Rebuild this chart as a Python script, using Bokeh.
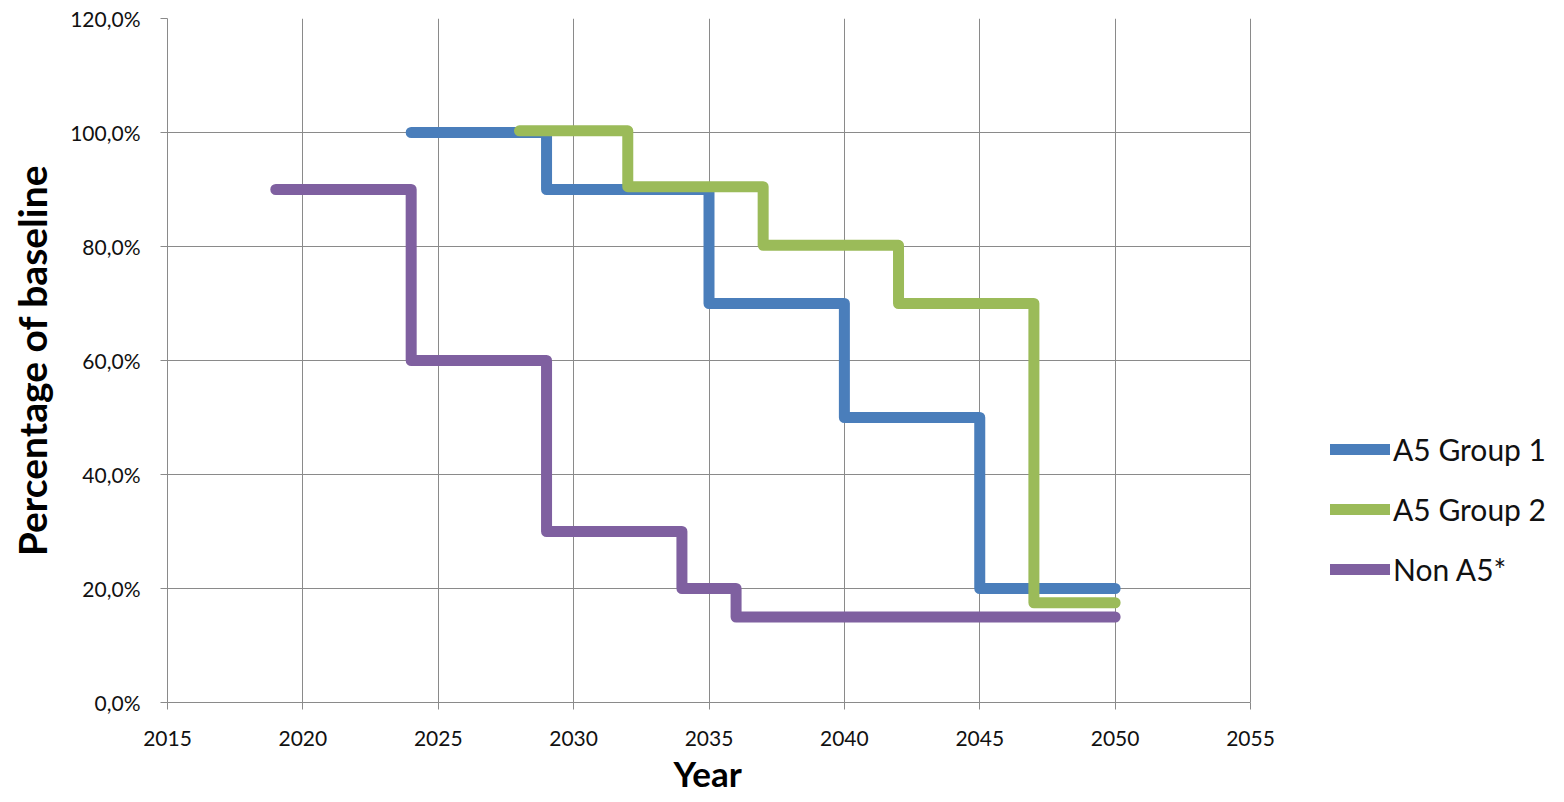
from bokeh.plotting import figure
from bokeh.models import Range1d, FixedTicker, Legend, LegendItem, Title
from bokeh.embed import file_html
from bokeh.resources import INLINE

# ---- data ----
years_g1 = [2024, 2029, 2035, 2040, 2045, 2050]
vals_g1 = [100, 90, 70, 50, 20, 20]

years_g2 = [2028, 2032, 2037, 2042, 2047, 2050]
vals_g2 = [100.3, 90.5, 80.2, 70, 17.5, 17.5]

years_na5 = [2019, 2024, 2029, 2034, 2036, 2050]
vals_na5 = [90, 60, 30, 20, 15, 15]

series_names = ["A5 Group 1", "A5 Group 2", "Non A5*"]
series_colors = ["#4A7EBB", "#9BBB59", "#7F60A0"]

x_ticks = [2015, 2020, 2025, 2030, 2035, 2040, 2045, 2050, 2055]
y_ticks = [0, 20, 40, 60, 80, 100, 120]
y_tick_labels = ["0,0%", "20,0%", "40,0%", "60,0%", "80,0%", "100,0%", "120,0%"]

FONT = "Lato"
GRID = "#8a8a8a"

W, H = 1564, 802
LEFT = 167
PLOT_PX = 1083            # pixel width of the 2015-2055 plot area
x0, x1 = x_ticks[0], x_ticks[-1]
# the frame runs to the right edge so the legend can sit beside the plot area
x_end = x0 + (x1 - x0) * (W - LEFT) / PLOT_PX

p = figure(width=W, height=H, output_backend="svg", toolbar_location=None,
           x_range=Range1d(x0, x_end), y_range=Range1d(y_ticks[0], y_ticks[-1]),
           min_border_left=LEFT, min_border_right=0, min_border_top=18, min_border_bottom=100)
p.background_fill_color = "white"
p.border_fill_color = "white"
p.outline_line_color = None

p.xaxis.ticker = FixedTicker(ticks=x_ticks)
p.yaxis.ticker = FixedTicker(ticks=y_ticks)
p.yaxis.major_label_overrides = {t: l for t, l in zip(y_ticks, y_tick_labels)}
p.xaxis.bounds = (x0, x1)

for ax in (p.xaxis[0], p.yaxis[0]):
    ax.axis_line_color = GRID
    ax.major_tick_line_color = GRID
    ax.major_tick_out = 7
    ax.major_tick_in = 0
    ax.minor_tick_line_color = None
    ax.major_label_text_font = FONT
    ax.major_label_text_font_size = "21px"
    ax.major_label_text_color = "#111111"
    ax.axis_label_text_font = FONT
    ax.axis_label_text_font_style = "bold"
    ax.axis_label_text_color = "#000000"

p.yaxis.axis_label = "Percentage of baseline"
p.yaxis.axis_label_text_font_size = "39px"
p.xaxis.major_label_standoff = 21
p.yaxis.major_label_standoff = 20
p.yaxis.axis_label_standoff = 12

p.xgrid.grid_line_color = GRID
p.ygrid.grid_line_color = GRID
p.ygrid.cross_bounds = (x0, x1)

renderers = []
for xs, ys, c in [(years_g1, vals_g1, series_colors[0]),
                  (years_g2, vals_g2, series_colors[1]),
                  (years_na5, vals_na5, series_colors[2])]:
    r = p.step(xs, ys, mode="after", line_color=c, line_width=11,
               line_join="round", line_cap="round")
    renderers.append(r)

# x-axis title, centred under the 2015-2055 plot area
x_title = Title(text="Year", align="left", offset=506, standoff=3,
                vertical_align="bottom",
                text_font=FONT, text_font_size="35px", text_font_style="bold",
                text_color="#000000")
p.add_layout(x_title, "below")

legend = Legend(items=[LegendItem(label=n, renderers=[r]) for n, r in zip(series_names, renderers)],
                location=(1163, 115), orientation="vertical",
                glyph_width=60, glyph_height=36, label_height=36, spacing=24,
                label_standoff=3, padding=0, margin=0,
                label_text_font=FONT, label_text_font_size="30px", label_text_color="#111111",
                background_fill_alpha=0, border_line_color=None)
p.add_layout(legend)

open("out.html", "w").write(file_html(p, INLINE))
